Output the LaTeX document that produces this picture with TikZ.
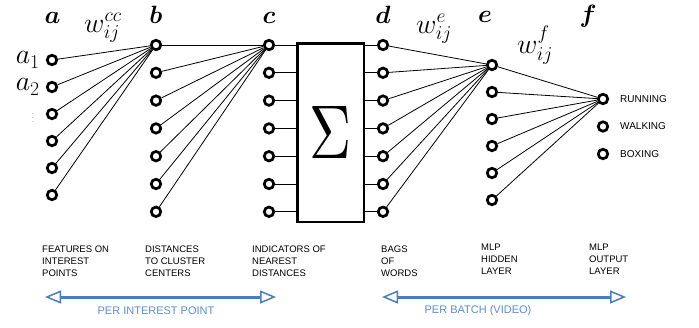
\RequirePackage{fix-cm}
\documentclass[tikz,border=0pt]{standalone}
\usepackage{fontspec}
\setsansfont{Liberation Sans}
\usepackage{amsmath,graphicx}
\usetikzlibrary{arrows.meta}
\definecolor{arrowblue}{RGB}{74,126,193}
\definecolor{textblue}{RGB}{91,142,205}
\begin{document}
\begin{tikzpicture}[x=1pt,y=-1pt,
  unit/.style={circle,draw,line width=2.7pt,minimum size=9.5pt,inner sep=0pt},
  link/.style={line width=0.8pt},
  hdr/.style={anchor=base,inner sep=0pt,font=\fontsize{25}{25}\selectfont},
  wt/.style={anchor=base west,inner sep=0pt,font=\fontsize{28}{28}\selectfont},
  inlabel/.style={anchor=east,inner sep=0pt,font=\fontsize{28}{28}\selectfont},
  layercap/.style={anchor=north west,align=left,inner sep=0pt,font=\sffamily\fontsize{9.5}{12}\selectfont},
  cls/.style={anchor=west,inner sep=0pt,font=\sffamily\fontsize{10}{12}\selectfont},
  spanarrow/.style={draw=arrowblue,line width=3pt,
    {Triangle[open,length=16pt,width=13pt,line width=1.5pt]}-{Triangle[open,length=16pt,width=13pt,line width=1.5pt]}},
  spanlabel/.style={text=textblue,inner sep=0pt,font=\sffamily\fontsize{11}{13}\selectfont}
]
\useasboundingbox (0,0) rectangle (699,327);

% layer headers
\node[hdr] (ha) at (52.5,23) {$\boldsymbol{a}$};
\node[hdr] (hb) at (156,23) {$\boldsymbol{b}$};
\node[hdr] (hc) at (269,23) {$\boldsymbol{c}$};
\node[hdr] (hd) at (383,23) {$\boldsymbol{d}$};
\node[hdr] (he) at (485,22) {$\boldsymbol{e}$};
\node[hdr] (hf) at (588,22) {$\boldsymbol{f}$};

% weight labels
\node[wt] (wcc) at (84,32) {$w_{ij}^{cc}$};
\node[wt] (we) at (416,33) {$w_{ij}^{e}$};
\node[wt] (wf) at (517,53) {$w_{ij}^{f}$};

% layer units
\foreach \i in {1,...,6} \node[unit] (a\i) at (52,{60+27*(\i-1)}) {};
\foreach \i in {1,...,7} \node[unit] (b\i) at (156,{45+27.8*(\i-1)}) {};
\foreach \i in {1,...,7} \node[unit] (c\i) at (269,{45+27.8*(\i-1)}) {};
\foreach \i in {1,...,7} \node[unit] (d\i) at (383,{45+27.8*(\i-1)}) {};
\foreach \i in {1,...,6} \node[unit] (e\i) at (492,{65+27*(\i-1)}) {};
\foreach \i in {1,...,3} \node[unit] (f\i) at (603,{99+27.5*(\i-1)}) {};

% summation block
\node[draw,line width=2.5pt,minimum width=66.5pt,minimum height=178.5pt,inner sep=0pt]
  (sum) at (330.5,132.5) {\resizebox{42pt}{52pt}{$\Sigma$}};

% input labels
\node[inlabel] (la1) at ([xshift=-6pt]a1.west) {$a_1$};
\node[inlabel] (la2) at ([xshift=-6pt]a2.west) {$a_2$};
\node[inner sep=0pt,text=black!70,font=\fontsize{8}{8}\selectfont] (ldots) at (33,115) {$\vdots$};

% connections
\foreach \i in {1,...,6} \draw[link] (a\i) -- (b1);
\foreach \i in {1,...,7} \draw[link] (b\i) -- (c1);
\foreach \i in {1,...,7} \draw[link] (c\i) -- (c\i -| sum.west);
\foreach \i in {1,...,7} \draw[link] (d\i -| sum.east) -- (d\i);
\foreach \i in {1,...,7} \draw[link] (d\i) -- (e1);
\foreach \i in {1,...,6} \draw[link] (e\i) -- (f1);

% output classes
\node[cls] (run) at (620,99) {RUNNING};
\node[cls] (walk) at (620,126.5) {WALKING};
\node[cls] (box) at (620,154) {BOXING};

% layer captions
\node[layercap] (ca) at (42,245.5) {FEATURES ON\\INTEREST\\POINTS};
\node[layercap] (cb) at (145,245.5) {DISTANCES\\TO CLUSTER\\CENTERS};
\node[layercap] (cc) at (252,245.5) {INDICATORS OF\\NEAREST\\DISTANCES};
\node[layercap] (cd) at (381,245.5) {BAGS\\OF\\WORDS};
\node[layercap] (ce) at (481,243.5) {MLP\\HIDDEN\\LAYER};
\node[layercap] (cf) at (589,243.5) {MLP\\OUTPUT\\LAYER};

% processing spans
\coordinate (s1l) at (45,297);
\coordinate (s1r) at (276,297);
\coordinate (s2l) at (382,297);
\coordinate (s2r) at (626,297);
\draw[spanarrow] (s1l) -- (s1r);
\draw[spanarrow] (s2l) -- (s2r);
\node[spanlabel] (p1) at (156,311) {PER INTEREST POINT};
\node[spanlabel] (p2) at (478,311) {PER BATCH (VIDEO)};
\end{tikzpicture}
\end{document}
